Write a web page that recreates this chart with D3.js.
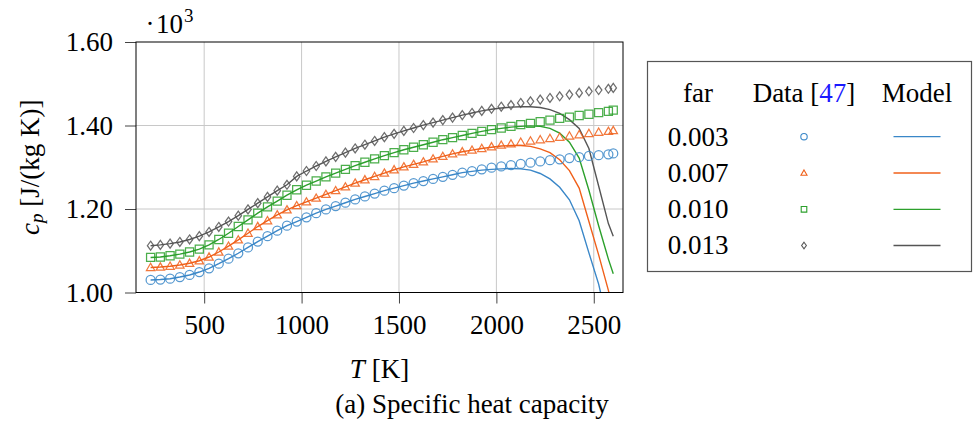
<!DOCTYPE html>
<html>
  <head>
    <title>Specific heat capacity</title>
    <style>
      body {
        margin: 0;
        background: #ffffff;
      }
      svg {
        background-color: #ffffff;
        font-family: "Liberation Serif", "DejaVu Serif", serif;
      }
    </style>
  </head>
  <body>
    <svg id="canvas" width="975" height="423"></svg>
    <script src="https://d3js.org/d3.v7.min.js"></script>
    <script>
      // Temperatures of the data points [K]
      const temps = [
        225, 275, 325, 375, 425, 475, 525, 575, 625, 675, 725, 775, 825, 875,
        925, 975, 1025, 1075, 1125, 1175, 1225, 1275, 1325, 1375, 1425, 1475,
        1525, 1575, 1625, 1675, 1725, 1775, 1825, 1875, 1925, 1975, 2025, 2075,
        2125, 2175, 2225, 2275, 2325, 2375, 2425, 2475, 2525, 2575, 2600
      ];

      const farLabels = ["0.003", "0.007", "0.010", "0.013"];
      const colors = ["#3a87c8", "#f0601a", "#2ca02c", "#555555"];
      const markers = ["circle", "triangle", "square", "diamond"];

      // Data [47], cp in 10^3 J/(kg K)
      const data003 = [
        1.030, 1.031, 1.033, 1.037, 1.042, 1.049, 1.058, 1.069, 1.081, 1.094,
        1.108, 1.122, 1.135, 1.148, 1.160, 1.170, 1.180, 1.190, 1.199, 1.207,
        1.215, 1.223, 1.230, 1.237, 1.244, 1.250, 1.256, 1.262, 1.267, 1.272,
        1.277, 1.282, 1.287, 1.291, 1.295, 1.299, 1.302, 1.305, 1.308, 1.311,
        1.314, 1.317, 1.319, 1.322, 1.324, 1.327, 1.329, 1.331, 1.333
      ];
      const data007 = [
        1.060, 1.061, 1.063, 1.066, 1.070, 1.076, 1.085, 1.097, 1.111, 1.126,
        1.142, 1.158, 1.172, 1.186, 1.198, 1.208, 1.217, 1.226, 1.235, 1.244,
        1.253, 1.262, 1.270, 1.278, 1.286, 1.294, 1.301, 1.307, 1.313, 1.320,
        1.326, 1.332, 1.337, 1.341, 1.345, 1.349, 1.353, 1.356, 1.360, 1.363,
        1.366, 1.369, 1.372, 1.375, 1.378, 1.381, 1.384, 1.386, 1.388
      ];
      const data010 = [
        1.084, 1.085, 1.088, 1.092, 1.097, 1.104, 1.114, 1.127, 1.142, 1.158,
        1.174, 1.190, 1.205, 1.219, 1.233, 1.246, 1.257, 1.267, 1.277, 1.286,
        1.295, 1.304, 1.312, 1.320, 1.328, 1.335, 1.342, 1.348, 1.354, 1.360,
        1.366, 1.371, 1.376, 1.381, 1.386, 1.390, 1.394, 1.398, 1.402, 1.405,
        1.409, 1.413, 1.417, 1.420, 1.424, 1.427, 1.431, 1.434, 1.437
      ];
      const data013 = [
        1.112, 1.114, 1.117, 1.121, 1.127, 1.135, 1.145, 1.157, 1.170, 1.184,
        1.199, 1.214, 1.229, 1.244, 1.258, 1.278, 1.291, 1.303, 1.314, 1.325,
        1.335, 1.345, 1.354, 1.363, 1.372, 1.380, 1.387, 1.394, 1.401, 1.407,
        1.413, 1.419, 1.425, 1.430, 1.435, 1.440, 1.445, 1.449, 1.454, 1.458,
        1.462, 1.466, 1.470, 1.474, 1.478, 1.482, 1.485, 1.488, 1.490
      ];

      // Model, same temperatures
      const model003 = [
        1.030, 1.031, 1.033, 1.037, 1.042, 1.049, 1.058, 1.069, 1.081, 1.094,
        1.108, 1.122, 1.135, 1.148, 1.160, 1.170, 1.180, 1.190, 1.199, 1.207,
        1.215, 1.223, 1.230, 1.237, 1.244, 1.250, 1.256, 1.262, 1.267, 1.272,
        1.277, 1.282, 1.287, 1.290, 1.293, 1.295, 1.296, 1.297, 1.296, 1.293,
        1.285, 1.272, 1.252, 1.222, 1.172, 1.095, 1.020, 0.920, 0.850
      ];
      const model007 = [
        1.060, 1.061, 1.063, 1.066, 1.070, 1.076, 1.085, 1.097, 1.111, 1.126,
        1.142, 1.158, 1.172, 1.186, 1.198, 1.208, 1.217, 1.226, 1.235, 1.244,
        1.253, 1.262, 1.270, 1.278, 1.286, 1.294, 1.301, 1.307, 1.313, 1.320,
        1.326, 1.332, 1.337, 1.341, 1.345, 1.348, 1.351, 1.352, 1.352, 1.350,
        1.344, 1.335, 1.318, 1.292, 1.250, 1.170, 1.090, 1.005, 0.960
      ];
      const model010 = [
        1.084, 1.085, 1.088, 1.092, 1.097, 1.104, 1.114, 1.127, 1.142, 1.158,
        1.174, 1.190, 1.205, 1.219, 1.233, 1.246, 1.257, 1.267, 1.277, 1.286,
        1.295, 1.304, 1.312, 1.320, 1.328, 1.335, 1.342, 1.348, 1.354, 1.360,
        1.366, 1.371, 1.376, 1.381, 1.386, 1.390, 1.393, 1.396, 1.398, 1.399,
        1.398, 1.393, 1.382, 1.360, 1.322, 1.245, 1.160, 1.080, 1.045
      ];
      const model013 = [
        1.112, 1.114, 1.117, 1.121, 1.127, 1.135, 1.145, 1.157, 1.170, 1.184,
        1.199, 1.214, 1.229, 1.244, 1.258, 1.278, 1.291, 1.303, 1.314, 1.325,
        1.335, 1.345, 1.354, 1.363, 1.372, 1.380, 1.387, 1.394, 1.401, 1.407,
        1.413, 1.419, 1.425, 1.430, 1.435, 1.439, 1.442, 1.444, 1.445, 1.445,
        1.443, 1.438, 1.429, 1.414, 1.393, 1.345, 1.255, 1.165, 1.135
      ];

      const dataSeries = [data003, data007, data010, data013];
      const modelSeries = [model003, model007, model010, model013];

      const xTicks = [500, 1000, 1500, 2000, 2500];
      const yTicks = [1.0, 1.2, 1.4, 1.6];

      const plot = { left: 136, right: 623, top: 42, bottom: 292.5 };
      const fontSize = 27;

      const svg = d3.select("#canvas");

      const x = d3.scaleLinear().domain([150, 2650]).range([plot.left, plot.right]);
      const y = d3.scaleLinear().domain([1.0, 1.6]).range([plot.bottom, plot.top]);

      svg
        .append("defs")
        .append("clipPath")
        .attr("id", "clip")
        .append("rect")
        .attr("x", plot.left)
        .attr("y", plot.top)
        .attr("width", plot.right - plot.left)
        .attr("height", plot.bottom - plot.top);

      // grid
      const grid = svg.append("g").attr("stroke", "#c8c8c8").attr("stroke-width", 1);
      xTicks.forEach(t => {
        grid
          .append("line")
          .attr("x1", x(t))
          .attr("x2", x(t))
          .attr("y1", plot.top)
          .attr("y2", plot.bottom);
      });
      yTicks
        .filter(t => t > 1.0 && t < 1.6)
        .forEach(t => {
          grid
            .append("line")
            .attr("x1", plot.left)
            .attr("x2", plot.right)
            .attr("y1", y(t))
            .attr("y2", y(t));
        });

      // axes
      const xAxis = svg
        .append("g")
        .attr("transform", "translate(0," + plot.bottom + ")")
        .call(
          d3
            .axisBottom(x)
            .tickValues(xTicks)
            .tickSize(11)
            .tickPadding(11)
            .tickFormat(d3.format("d"))
        );
      const yAxis = svg
        .append("g")
        .attr("transform", "translate(" + plot.left + ",0)")
        .call(
          d3
            .axisLeft(y)
            .tickValues(yTicks)
            .tickSize(11)
            .tickPadding(12)
            .tickFormat(d3.format(".2f"))
        );
      [xAxis, yAxis].forEach(a => {
        a.select(".domain").remove();
        a.selectAll(".tick line").attr("stroke", "#444");
        a.selectAll(".tick text")
          .attr("fill", "#000")
          .style("font-family", "Liberation Serif, serif")
          .style("font-size", fontSize + "px");
      });

      // marker shapes
      function markerPath(type, s) {
        if (type === "circle") {
          return circlePath(s);
        }
        if (type === "triangle") {
          return "M0," + (-s * 0.95) + "L" + s * 0.95 + "," + s * 0.7 + "L" + (-s * 0.95) + "," + s * 0.7 + "Z";
        }
        if (type === "square") {
          return "M" + -s * 0.9 + "," + -s * 0.9 + "h" + s * 1.8 + "v" + s * 1.8 + "h" + -s * 1.8 + "Z";
        }
        return "M0," + -s + "L" + s * 0.72 + ",0L0," + s + "L" + -s * 0.72 + ",0Z";
      }
      function circlePath(r) {
        const p = d3.path();
        p.arc(0, 0, r, 0, 2 * Math.PI);
        p.closePath();
        return p.toString();
      }

      const plotArea = svg.append("g").attr("clip-path", "url(#clip)");

      const line = d3
        .line()
        .x(d => x(d[0]))
        .y(d => y(d[1]));

      // model lines
      modelSeries.forEach((vals, i) => {
        plotArea
          .append("path")
          .datum(temps.map((t, j) => [t, vals[j]]))
          .attr("d", line)
          .attr("fill", "none")
          .attr("stroke", colors[i])
          .attr("stroke-width", 1.4);
      });

      // data markers
      const markerSize = [4.5, 4.4, 4.5, 4.5];
      dataSeries.forEach((vals, i) => {
        plotArea
          .append("g")
          .selectAll("path")
          .data(temps.map((t, j) => [t, vals[j]]))
          .join("path")
          .attr("transform", d => "translate(" + x(d[0]) + "," + y(d[1]) + ")")
          .attr("d", markerPath(markers[i], markerSize[i]))
          .attr("fill", "none")
          .attr("stroke", colors[i])
          .attr("stroke-opacity", 0.85)
          .attr("stroke-width", 1.25);
      });

      // frame
      svg
        .append("rect")
        .attr("x", plot.left)
        .attr("y", plot.top)
        .attr("width", plot.right - plot.left)
        .attr("height", plot.bottom - plot.top)
        .attr("fill", "none")
        .attr("stroke", "#000")
        .attr("stroke-width", 1);

      // scale factor label
      svg
        .append("text")
        .attr("x", 150)
        .attr("y", 33)
        .attr("text-anchor", "middle")
        .style("font-size", fontSize + "px")
        .text("\u00b7");
      svg
        .append("text")
        .attr("x", 156)
        .attr("y", 33)
        .style("font-size", fontSize + "px")
        .text("10");
      svg
        .append("text")
        .attr("x", 184)
        .attr("y", 22)
        .style("font-size", "19px")
        .text("3");

      // y label
      const yLabel = svg
        .append("text")
        .attr("transform", "translate(39," + (plot.top + plot.bottom) / 2 + ") rotate(-90)")
        .attr("text-anchor", "middle")
        .style("font-size", fontSize + "px");
      yLabel.append("tspan").style("font-style", "italic").text("c");
      yLabel
        .append("tspan")
        .style("font-style", "italic")
        .style("font-size", "19px")
        .attr("dy", 4)
        .text("p");
      yLabel.append("tspan").attr("dy", -4).text("\u00a0[J/(kg K)]");

      // x label
      const xLabel = svg
        .append("text")
        .attr("x", (plot.left + plot.right) / 2)
        .attr("y", 378)
        .attr("text-anchor", "middle")
        .style("font-size", fontSize + "px");
      xLabel.append("tspan").style("font-style", "italic").text("T");
      xLabel.append("tspan").text(" [K]");

      // caption
      svg
        .append("text")
        .attr("x", 472)
        .attr("y", 413)
        .attr("text-anchor", "middle")
        .style("font-size", fontSize + "px")
        .text("(a) Specific heat capacity");

      // legend
      const legend = svg.append("g");
      legend
        .append("rect")
        .attr("x", 647.5)
        .attr("y", 61.5)
        .attr("width", 324)
        .attr("height", 210)
        .attr("fill", "#fff")
        .attr("stroke", "#555")
        .attr("stroke-width", 1.2);

      const colX = [698, 804, 917];
      legend
        .append("text")
        .attr("x", colX[0])
        .attr("y", 101.5)
        .attr("text-anchor", "middle")
        .style("font-size", fontSize + "px")
        .text("far");
      const dataHead = legend
        .append("text")
        .attr("x", colX[1])
        .attr("y", 101.5)
        .attr("text-anchor", "middle")
        .style("font-size", fontSize + "px");
      dataHead.append("tspan").text("Data [");
      dataHead.append("tspan").attr("fill", "#1a1aff").text("47");
      dataHead.append("tspan").text("]");
      legend
        .append("text")
        .attr("x", colX[2])
        .attr("y", 101.5)
        .attr("text-anchor", "middle")
        .style("font-size", fontSize + "px")
        .text("Model");

      const rowY = [136.7, 173, 209.3, 245.5];
      const legendMarkerSize = [3.2, 3.2, 3.1, 3.3];
      farLabels.forEach((label, i) => {
        legend
          .append("text")
          .attr("x", colX[0])
          .attr("y", rowY[i] + 8.8)
          .attr("text-anchor", "middle")
          .style("font-size", fontSize + "px")
          .text(label);
        legend
          .append("path")
          .attr("transform", "translate(" + colX[1] + "," + rowY[i] + ")")
          .attr("d", markerPath(markers[i], legendMarkerSize[i]))
          .attr("fill", "none")
          .attr("stroke", colors[i])
          .attr("stroke-width", 1.1);
        legend
          .append("line")
          .attr("x1", colX[2] - 23.5)
          .attr("x2", colX[2] + 23.5)
          .attr("y1", rowY[i])
          .attr("y2", rowY[i])
          .attr("stroke", colors[i])
          .attr("stroke-width", 1.3);
      });
    </script>
  </body>
</html>
